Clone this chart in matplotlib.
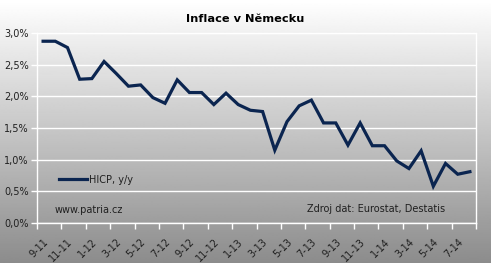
import numpy as np
import matplotlib
matplotlib.use('Agg')
import matplotlib.pyplot as plt

# HICP y/y, 9-11 .. 8-14 (monthly)
hicp = [2.87, 2.87, 2.77, 2.27, 2.28, 2.55, 2.36, 2.16, 2.18, 1.98, 1.89, 2.26,
        2.06, 2.06, 1.87, 2.05, 1.87, 1.78, 1.76, 1.15, 1.60, 1.85, 1.94, 1.58,
        1.58, 1.23, 1.58, 1.22, 1.22, 0.98, 0.86, 1.14, 0.58, 0.94, 0.77, 0.81]
tick_labels = ['9-11', '11-11', '1-12', '3-12', '5-12', '7-12', '9-12', '11-12', '1-13',
               '3-13', '5-13', '7-13', '9-13', '11-13', '1-14', '3-14', '5-14', '7-14']
y_ticks = [0.0, 0.5, 1.0, 1.5, 2.0, 2.5, 3.0]

fig = plt.figure(figsize=(4.91, 2.63), dpi=100)

# pozadi - gradient od bile k sede
bg = fig.add_axes([0, 0, 1, 1], zorder=-10)
grad = np.linspace(1.0, 0.55, 256).reshape(-1, 1)
bg.imshow(grad, aspect='auto', cmap='gray', vmin=0, vmax=1, extent=[0, 1, 0, 1])
bg.axis('off')

ax = fig.add_axes([37/491, 1-223/263, 439/491, 190/263])
ax.patch.set_alpha(0)

x = np.arange(len(hicp)) + 0.5
ax.plot(x, hicp, color='#0b2550', lw=2.3, solid_joinstyle='miter', zorder=3,
        label='HICP, y/y')

ax.set_xlim(0, len(hicp))
ax.set_ylim(0, 3.0)
ax.set_yticks(y_ticks)
ax.set_yticklabels([f'{v:.1f}%'.replace('.', ',') for v in y_ticks], fontsize=7, color='#202020')
ax.grid(axis='y', color='white', lw=1)

# carky mezi kategoriemi, popisky pod stredem kategorie
ax.set_xticks(np.arange(0, len(hicp) + 1, 2))
ax.set_xticklabels([])
ax.set_xticks(np.arange(0, len(hicp) - 1, 2) + 0.5, minor=True)
ax.set_xticklabels(tick_labels, minor=True, rotation=45, ha='right', va='top',
                   rotation_mode='anchor', fontsize=7, color='#202020')
ax.tick_params(axis='x', which='minor', length=0, pad=10)
ax.tick_params(axis='both', which='major', color='white', length=4, width=1, pad=2)

for s in ax.spines.values():
    s.set_color('white')
    s.set_linewidth(1)

leg = ax.legend(loc='upper left', bbox_to_anchor=(0.03, 0.30), frameon=False,
                fontsize=7, handlelength=2.9, handletextpad=0.2)
for t in leg.get_texts():
    t.set_color('#202020')

fig.text(55/491, 1-210/263, 'www.patria.cz', fontsize=7, color='#202020', va='center')
fig.text(307/491, 1-209/263, 'Zdroj dat: Eurostat, Destatis', fontsize=7,
         color='#202020', va='center')
fig.text(245/491, 1-19/263, 'Inflace v Německu', fontsize=8.2, fontweight='bold',
         ha='center', va='center', color='black')

fig.savefig('out.png', dpi=100)
